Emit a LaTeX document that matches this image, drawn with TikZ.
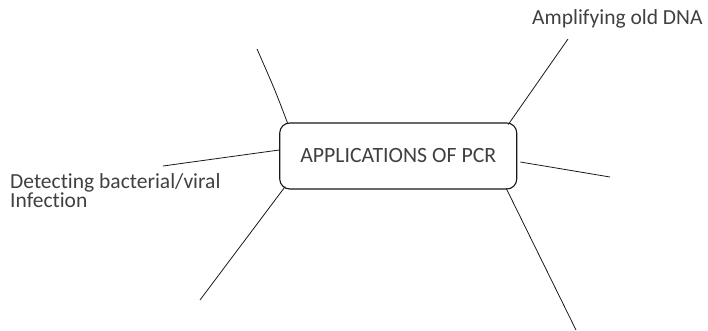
\documentclass[tikz,border=0pt]{standalone}
\usepackage{fontspec}
\setmainfont[Ligatures=CommonOff]{Carlito}
\usetikzlibrary{calc}
\tikzset{
  hub/.style={draw=black!90, line width=1.1pt, rounded corners=10pt, minimum width=237pt, minimum height=66pt, inner sep=0pt, text=black!75, font=\fontsize{21.8}{16}\selectfont},
  label/.style={inner sep=0pt, text=black!75, font=\fontsize{21.5}{17}\selectfont, align=left},
  spoke/.style={draw=black!90, line width=0.8pt}
}
\begin{document}
\begin{tikzpicture}[x=1pt,y=-1pt]
\useasboundingbox (0,0) rectangle (708,331);
\node[hub] (pcr) at (398.25,156) {APPLICATIONS OF PCR};
\node[label, anchor=base west] (amp) at (532,25) {Amplifying old DNA};
\node[label, anchor=north west] (det) at (10,173) {Detecting bacterial/viral\\Infection};
% free ends
\coordinate (ul) at (257,49);
\coordinate (ur) at (568,39);
\coordinate (le) at (163,166);
\coordinate (ri) at (610,177);
\coordinate (ll) at (200,300);
\coordinate (lr) at (576,330);
% ends on the box
\coordinate (bul) at ($(pcr.north west)+(8.5,1)$);
\coordinate (bur) at ($(pcr.north east)+(-9,2)$);
\coordinate (ble) at ($(pcr.west)+(0,-6)$);
\coordinate (bri) at ($(pcr.east)+(3,6)$);
\coordinate (bll) at ($(pcr.south west)+(6,-3)$);
\coordinate (blr) at ($(pcr.south east)+(-11,-1)$);
\draw[spoke] (ul) .. controls (275,90) .. (bul);
\draw[spoke] (ur) -- (bur);
\draw[spoke] (le) -- (ble);
\draw[spoke] (bri) -- (ri);
\draw[spoke] (ll) -- (bll);
\draw[spoke] (blr) -- (lr);
\end{tikzpicture}
\end{document}
